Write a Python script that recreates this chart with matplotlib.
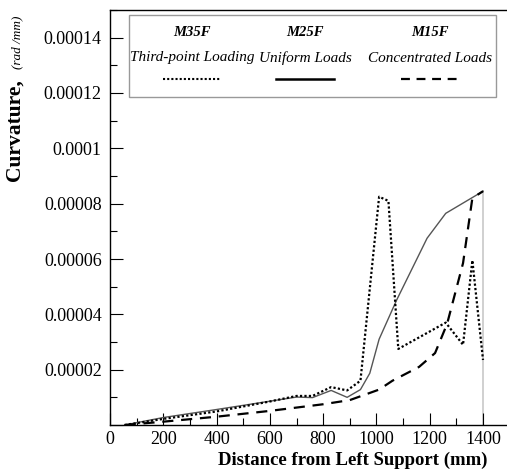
import matplotlib
matplotlib.use("Agg")
from matplotlib import pyplot as plt
from matplotlib.ticker import MultipleLocator, FuncFormatter
from matplotlib.patches import Rectangle
from matplotlib.lines import Line2D

plt.rcParams["font.family"] = ["Liberation Serif", "DejaVu Serif"]

# M35F - third-point loading (dotted)
x_m35 = [55, 200, 400, 600, 700, 760, 830, 890, 940, 1010, 1045, 1082, 1260, 1325, 1360, 1400]
y_m35 = [0, 2.2e-6, 4.9e-6, 8.5e-6, 1.05e-5, 1.05e-5, 1.37e-5, 1.25e-5, 1.6e-5,
         8.25e-5, 8.1e-5, 2.75e-5, 3.7e-5, 2.9e-5, 5.95e-5, 2.35e-5]

# M25F - uniform loads (solid)
x_m25 = [55, 200, 400, 600, 700, 760, 830, 890, 940, 975, 1010, 1075, 1190, 1260, 1400]
y_m25 = [0, 2.7e-6, 5.6e-6, 8.6e-6, 1.01e-5, 9.9e-6, 1.25e-5, 1.0e-5, 1.28e-5,
         1.87e-5, 3.1e-5, 4.5e-5, 6.75e-5, 7.65e-5, 8.45e-5]

# M15F - concentrated loads (dashed)
x_m15 = [55, 200, 400, 600, 800, 900, 1010, 1060, 1160, 1220, 1265, 1325, 1360, 1400]
y_m15 = [0, 1.2e-6, 3.0e-6, 5.1e-6, 7.5e-6, 9.0e-6, 1.28e-5, 1.6e-5, 2.1e-5,
         2.6e-5, 3.65e-5, 5.85e-5, 8.2e-5, 8.45e-5]

names = ["M35F", "M25F", "M15F"]
loads = ["Third-point Loading", "Uniform Loads", "Concentrated Loads"]

fig = plt.figure(figsize=(5.07, 4.75), dpi=100)
ax = fig.add_axes([110 / 507, 50 / 475, 397 / 507, 415 / 475])

# support line at the right end
ax.plot([x_m25[-1], x_m25[-1]], [0, y_m25[-1]], color="#c8c8c8", lw=1.2, zorder=1)

ax.plot(x_m25, y_m25, color="#555555", lw=1.0, zorder=2)
ax.plot(x_m35, y_m35, color="black", lw=1.6, linestyle=(0, (1, 1)), zorder=3)
ax.plot(x_m15, y_m15, color="black", lw=1.6, linestyle=(0, (5, 3.5)), zorder=3)

ax.set_xlim(0, 1490)
ax.set_ylim(0, 0.00015)
ax.spines["right"].set_visible(False)
for s in ["left", "bottom", "top"]:
    ax.spines[s].set_linewidth(1.0)

ax.xaxis.set_major_locator(MultipleLocator(200))
ax.xaxis.set_minor_locator(MultipleLocator(100))
ax.yaxis.set_major_locator(MultipleLocator(0.00002))
ax.yaxis.set_minor_locator(MultipleLocator(0.00001))
ax.yaxis.set_major_formatter(FuncFormatter(
    lambda v, p: "" if v < 1e-9 else "{:.5f}".format(v).rstrip("0")))
ax.tick_params(which="major", direction="in", length=9, width=0.8,
               labelsize=13, top=False, right=False)
ax.tick_params(which="minor", direction="in", length=5, width=0.8,
               top=False, right=False)
ax.tick_params(axis="y", which="major", pad=6)
ax.tick_params(axis="x", which="major", pad=4)

ax.set_xlabel("Distance from Left Support (mm)", fontsize=13.5,
              fontweight="bold")
ax.xaxis.set_label_coords((488 - 110) / 397, -(460 - 425) / 415,
                          transform=ax.transAxes)
ax.xaxis.label.set_ha("right")
ax.xaxis.label.set_va("center")

fig.text(15 / 507, 1 - 130 / 475, "Curvature,", rotation=90, fontsize=15.5,
         fontweight="bold", ha="center", va="center")
fig.text(17 / 507, 1 - 42 / 475, "(rad /mm)", rotation=90, fontsize=9.5,
         fontstyle="italic", ha="center", va="center")

# legend box
fig.patches.append(Rectangle((129 / 507, 1 - 97 / 475), 367 / 507, 82 / 475,
                             transform=fig.transFigure, fill=True,
                             facecolor="white", edgecolor="#999999", lw=1.0,
                             zorder=5))
cx = [192, 305, 430]
styles = [dict(color="black", lw=1.5, linestyle=(0, (1, 1))),
          dict(color="black", lw=1.8),
          dict(color="black", lw=1.6, linestyle=(0, (4, 3)))]
for c, n, l, st in zip(cx, names, loads, styles):
    fig.text(c / 507, 1 - 33 / 475, n, fontsize=10.5, fontweight="bold",
             fontstyle="italic", ha="center", va="center", zorder=6)
    fig.text(c / 507, 1 - 58 / 475, l, fontsize=11, fontstyle="italic",
             ha="center", va="center", zorder=6)
    fig.lines.append(Line2D([(c - 29) / 507, (c + 29) / 507],
                            [1 - 79 / 475, 1 - 79 / 475],
                            transform=fig.transFigure, zorder=6, **st))

fig.savefig("out.png", dpi=100)
